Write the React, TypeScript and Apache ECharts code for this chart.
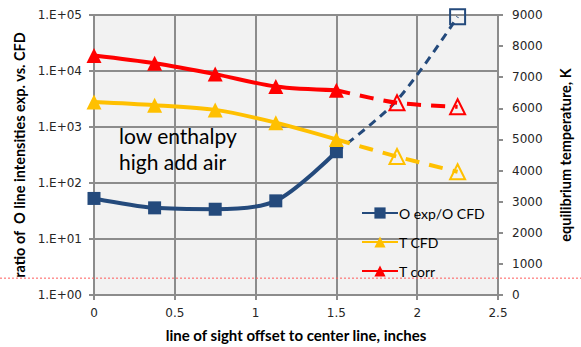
import React, { useEffect, useRef } from "react";
import * as echarts from "echarts";

// Line-of-sight offsets (inches)
const offsets = [0, 0.375, 0.75, 1.125, 1.5];
const extOffsets = [1.5, 1.875, 2.25];

// O line intensity ratio, experiment vs. CFD (log axis)
const oRatio = [53, 36, 34, 48, 362];
const oRatioExt = [362, 3000, 93000];

// Equilibrium temperature, K (right axis)
const tCfd = [6200, 6100, 5950, 5540, 5000];
const tCfdExt = [5000, 4450, 3960];
const tCorr = [7700, 7450, 7100, 6700, 6580];
const tCorrExt = [6580, 6180, 6050];

// Reference level drawn across the figure
const refRatio = 2;

const xTicks = [0, 0.5, 1, 1.5, 2, 2.5];

const BLUE = "#244a7c";
const YELLOW = "#ffc000";
const RED = "#ff0000";
const GRID = "#8c8c8c";
const TICK_FONT = "'DejaVu Sans', Verdana, sans-serif";
const TITLE_FONT = "Lato, 'Open Sans', sans-serif";

const pairs = (xs: number[], ys: number[]) => xs.map((x, i) => [x, ys[i]]);

// extension points: hidden at the joint, hollow markers elsewhere
const extData = (xs: number[], ys: number[], color: string, hollow: boolean[]) =>
  xs.map((x, i) => ({
    value: [x, ys[i]],
    symbolSize: hollow[i] ? 15 : 0,
    itemStyle: hollow[i]
      ? { color: "rgba(0,0,0,0)", borderColor: color, borderWidth: 2 }
      : { opacity: 0 },
  }));

const noteText = {
  type: "text",
  left: 119,
  top: 122,
  z: 10,
  style: {
    text: "low enthalpy\nhigh add air",
    fill: "#000",
    font: "21px " + TITLE_FONT,
    align: "center",
    lineHeight: 26,
    x: 63,
  },
};

export default function App() {
  const ref = useRef<HTMLDivElement>(null);

  useEffect(() => {
    if (!ref.current) return;
    const chart = echarts.init(ref.current, undefined, { renderer: "svg" });

    const axisLabel = { color: "#262626", fontFamily: TICK_FONT, fontSize: 12 };
    const axisLine = { show: true, lineStyle: { color: GRID, width: 2 } };
    const axisTick = { show: true, length: 5, lineStyle: { color: GRID, width: 2 } };
    const nameStyle = (size: number) => ({
      color: "#000",
      fontFamily: TITLE_FONT,
      fontWeight: "bold" as const,
      fontSize: size,
    });

    chart.setOption({
      animation: false,
      backgroundColor: "#fff",
      grid: {
        left: 94,
        right: 79,
        top: 15,
        bottom: 52,
        show: true,
        backgroundColor: "#f2f2f2",
        borderWidth: 0,
      },
      xAxis: {
        type: "value",
        min: xTicks[0],
        max: xTicks[xTicks.length - 1],
        interval: 0.5,
        axisLine,
        axisTick,
        axisLabel: { ...axisLabel, margin: 12 },
        splitLine: { show: true, lineStyle: { color: GRID, width: 2 } },
        name: "line of sight offset to center line, inches",
        nameLocation: "middle",
        nameGap: 32,
        nameTextStyle: nameStyle(15),
      },
      yAxis: [
        {
          type: "log",
          logBase: 10,
          min: 1,
          max: 100000,
          axisLine,
          axisTick,
          axisLabel: {
            ...axisLabel,
            margin: 12,
            formatter: (v: number) => {
              const e = Math.round(Math.log10(v));
              return "1.E+" + (e < 10 ? "0" + e : String(e));
            },
          },
          splitLine: { show: true, lineStyle: { color: GRID, width: 2 } },
          name: "ratio of  O line intensities exp. vs. CFD",
          nameLocation: "middle",
          nameRotate: 90,
          nameGap: 65,
          nameTextStyle: nameStyle(14.5),
        },
        {
          type: "value",
          position: "right",
          min: 0,
          max: 9000,
          interval: 1000,
          axisLine,
          axisTick,
          axisLabel: { ...axisLabel, margin: 14, formatter: (v: number) => String(v) },
          splitLine: { show: false },
          name: "equilibrium temperature, K",
          nameLocation: "middle",
          nameRotate: 90,
          nameGap: 60,
          nameTextStyle: nameStyle(14.5),
        },
      ],
      legend: {
        data: ["O exp/O CFD", "T CFD", "T corr"],
        orient: "vertical",
        left: 356,
        top: 201,
        itemWidth: 36,
        itemHeight: 14,
        itemGap: 15,
        textStyle: { color: "#000", fontFamily: TITLE_FONT, fontSize: 14, padding: [0, 0, 0, -4] },
      },
      series: [
        {
          name: "O exp/O CFD",
          type: "line",
          yAxisIndex: 0,
          data: pairs(offsets, oRatio),
          smooth: 0.3,
          symbol: "rect",
          symbolSize: 13,
          color: BLUE,
          lineStyle: { color: BLUE, width: 4 },
          z: 3,
        },
        {
          name: "O exp/O CFD ext",
          type: "line",
          yAxisIndex: 0,
          data: extData(extOffsets, oRatioExt, BLUE, [false, false, true]),
          smooth: 0.3,
          symbol: "rect",
          color: BLUE,
          lineStyle: { color: BLUE, width: 3, type: [8, 6] },
          z: 2,
        },
        {
          name: "T CFD",
          type: "line",
          yAxisIndex: 1,
          data: pairs(offsets, tCfd),
          smooth: 0.3,
          symbol: "triangle",
          symbolSize: 15,
          color: YELLOW,
          lineStyle: { color: YELLOW, width: 4 },
          z: 4,
        },
        {
          name: "T CFD ext",
          type: "line",
          yAxisIndex: 1,
          data: extData(extOffsets, tCfdExt, YELLOW, [false, true, true]),
          smooth: 0.3,
          symbol: "triangle",
          color: YELLOW,
          lineStyle: { color: YELLOW, width: 4, type: [14, 10] },
          z: 2,
        },
        {
          name: "T corr",
          type: "line",
          yAxisIndex: 1,
          data: pairs(offsets, tCorr),
          smooth: 0.3,
          symbol: "triangle",
          symbolSize: 15,
          color: RED,
          lineStyle: { color: RED, width: 4 },
          z: 4,
        },
        {
          name: "T corr ext",
          type: "line",
          yAxisIndex: 1,
          data: extData(extOffsets, tCorrExt, RED, [false, true, true]),
          smooth: 0.3,
          symbol: "triangle",
          color: RED,
          lineStyle: { color: RED, width: 4, type: [14, 10] },
          z: 2,
        },
      ],
      graphic: [noteText],
    });

    // reference level spanning the whole figure width
    const yRef = chart.convertToPixel({ yAxisIndex: 0 }, refRatio) as number;
    chart.setOption({
      graphic: [
        noteText,
        {
          type: "line",
          z: 20,
          shape: { x1: 0, y1: yRef, x2: 581, y2: yRef },
          style: { stroke: "#ff5a5a", lineWidth: 1, lineDash: [2, 2] },
        },
      ],
    });

    return () => chart.dispose();
  }, []);

  return <div ref={ref} style={{ width: 581, height: 347, position: "absolute", left: 0, top: 0 }} />;
}
